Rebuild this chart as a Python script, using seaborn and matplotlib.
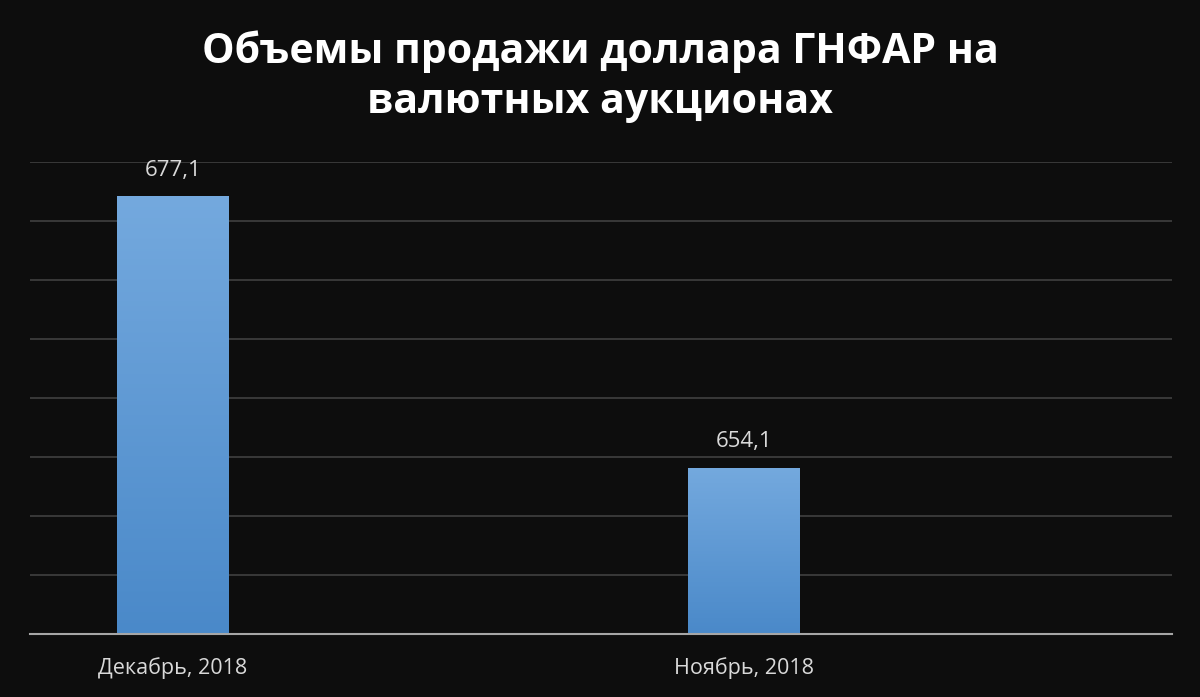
import numpy as np
import pandas as pd
import matplotlib
matplotlib.use("Agg")
import matplotlib.pyplot as plt
import seaborn as sns
from matplotlib.colors import LinearSegmentedColormap

categories = ["Декабрь, 2018", "Ноябрь, 2018"]
values = [677.1, 654.1]
value_labels = ["677,1", "654,1"]
title = "Объемы продажи доллара ГНФАР на\nвалютных аукционах"

bg = "#0d0d0d"
sns.set_theme(style="dark")
plt.rcParams["font.family"] = ["Open Sans", "DejaVu Sans"]

fig = plt.figure(figsize=(12, 6.97), dpi=100, facecolor=bg)
ax = fig.add_axes([0.025, 0.0904, 0.9517, 0.6772], facecolor=bg)

df = pd.DataFrame({"cat": categories, "val": values})
sns.barplot(data=df, x="cat", y="val", ax=ax, width=0.196, color="#5b9bd5",
            saturation=1, edgecolor="none", zorder=3)

ax.set_ylim(640, 680)
ax.set_xlim(-0.25, 1.75)
ax.set_yticks(np.arange(640, 681, 5))
ax.yaxis.grid(True, color="#3c3c3c", linewidth=1.3, zorder=0)
ax.xaxis.grid(False)
ax.tick_params(axis="y", left=False, labelleft=False)
ax.tick_params(axis="x", bottom=False, colors="#d9d9d9", labelsize=15.5, pad=11)
for s in ["top", "right", "left"]:
    ax.spines[s].set_visible(False)
ax.spines["bottom"].set_color("#a6a6a6")
ax.spines["bottom"].set_linewidth(1.5)
ax.spines["bottom"].set_zorder(5)
ax.set_xlabel("")
ax.set_ylabel("")

# gradient fill on bars
cmap = LinearSegmentedColormap.from_list("g", ["#4a89c9", "#74a9de"])
grad = np.linspace(0, 1, 256).reshape(-1, 1)
for p in list(ax.patches):
    x0, y0 = p.get_x(), p.get_y()
    w, h = p.get_width(), p.get_height()
    im = ax.imshow(grad, cmap=cmap, aspect="auto", origin="lower",
                   extent=[x0, x0 + w, 640, y0 + h], zorder=4)
    im.set_clip_path(p)
ax.set_xlim(-0.25, 1.75)
ax.set_ylim(640, 680)

for i, (v, lab) in enumerate(zip(values, value_labels)):
    ax.annotate(lab, (i, v), xytext=(0, 11), textcoords="offset points",
                ha="center", va="bottom", color="#d9d9d9", fontsize=16)

fig.text(0.5, 0.890, title, ha="center", va="center", color="white",
         fontsize=29.5, fontweight="bold", linespacing=1.29)

fig.savefig("out.png", dpi=100, facecolor=bg)
